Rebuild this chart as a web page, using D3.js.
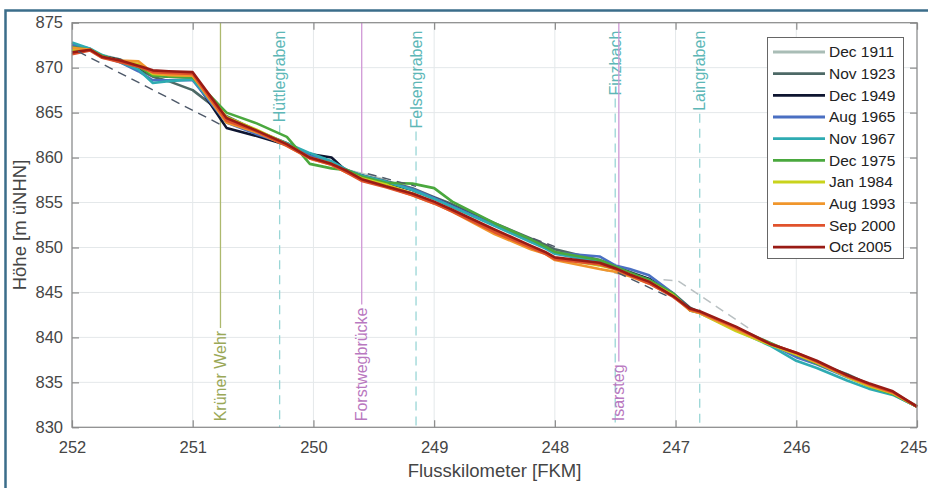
<!DOCTYPE html>
<html><head><meta charset="utf-8">
<script src="https://cdn.jsdelivr.net/npm/d3@7"></script>
<style>body{margin:0;background:#fff;} text{font-family:"Liberation Sans",Arial,sans-serif;}</style>
</head><body><svg id="c" width="928" height="488"></svg>
<script>
// ---- data ----
const km = [252.0,251.85,251.75,251.6,251.45,251.33,251.2,251.0,250.72,250.47,250.22,250.03,249.85,249.72,249.6,249.4,249.18,249.0,248.85,248.5,248.2,248.08,248.0,247.63,247.5,247.38,247.22,247.02,246.88,246.8,246.5,246.22,246.0,245.83,245.58,245.4,245.2,245.0];
const seriesNames = ["Dec 1911","Nov 1923","Dec 1949","Aug 1965","Nov 1967","Dec 1975","Jan 1984","Aug 1993","Sep 2000","Oct 2005"];
const seriesColors = ["#a9bdb6","#4d6966","#0e1530","#4a6fc2","#2eabb2","#4aa83e","#c9d31c","#f0962c","#e0522c","#991b15"];
const dec1911 = [872.3,872.0,871.4,870.9,870.1,869.4,869.2,869.0,864.4,863.0,861.6,860.2,859.4,858.6,858.2,857.5,null,null,null,852.6,850.8,850.2,849.6,848.0,null,null,null,null,null,null,841.1,839.4,838.1,837.2,835.9,834.8,833.8,832.4];
const nov1923 = [872.5,872.0,871.3,870.9,869.8,869.0,868.5,867.5,864.6,863.0,861.6,860.3,859.5,858.6,858.0,857.4,856.6,855.6,854.8,852.7,851.0,850.3,849.8,848.6,847.9,847.3,846.5,844.9,843.3,842.8,841.0,839.3,838.0,837.1,835.9,834.8,833.7,832.3];
const dec1949 = [872.0,872.0,871.3,870.8,870.0,869.2,869.0,868.9,863.3,862.4,861.4,860.4,860.0,858.4,858.0,857.2,856.4,855.5,854.6,852.5,850.8,850.0,849.4,848.5,847.9,847.2,846.5,844.8,843.2,842.8,841.0,839.3,838.1,837.2,835.8,834.7,833.8,832.3];
const aug1965 = [872.6,872.1,871.2,870.6,869.6,868.6,868.6,868.6,863.9,862.6,861.5,860.2,859.5,858.5,858.0,857.3,856.5,855.5,854.6,852.5,850.8,850.0,849.4,849.0,848.0,847.6,846.9,844.9,843.1,842.8,841.0,839.3,837.8,837.0,835.6,834.6,833.7,832.3];
const nov1967 = [872.8,872.1,871.4,870.6,869.8,868.3,868.5,868.7,864.2,862.8,861.6,860.5,859.6,858.6,858.0,857.3,856.4,855.4,854.5,852.4,850.6,849.9,849.3,848.4,847.8,847.1,846.4,844.8,843.0,842.7,840.8,839.1,837.4,836.6,835.2,834.3,833.6,832.3];
const dec1975 = [872.3,872.0,871.3,870.7,870.1,869.1,869.0,868.9,865.0,863.8,862.3,859.3,858.8,858.6,857.9,857.2,857.1,856.6,855.1,852.7,850.9,850.1,849.5,848.6,847.9,847.2,846.4,844.9,843.0,842.8,841.0,839.4,838.1,837.1,835.7,834.6,833.7,832.3];
const jan1984 = [872.0,872.0,871.2,870.7,870.4,869.3,869.2,869.1,864.5,863.1,861.5,860.0,859.3,858.4,857.7,857.0,856.0,855.0,854.1,851.8,850.1,849.4,848.8,848.0,847.6,847.0,846.2,844.7,843.1,842.7,840.7,839.2,838.1,837.2,835.6,834.6,833.8,832.3];
const aug1993 = [872.2,872.0,871.1,870.8,870.7,869.4,869.2,869.1,863.9,862.8,861.3,859.9,859.2,858.3,857.6,856.8,855.8,854.9,854.0,851.5,849.8,849.3,848.6,847.6,847.3,846.8,846.0,844.6,843.0,842.7,840.9,839.3,838.2,837.2,835.7,834.7,833.8,832.3];
const sep2000 = [871.5,871.9,871.1,870.6,870.1,869.5,869.4,869.3,864.1,862.9,861.3,859.9,859.2,858.3,857.4,856.7,855.8,854.9,854.0,851.7,850.0,849.3,848.7,848.1,847.6,846.9,846.0,844.5,843.1,842.8,841.1,839.3,838.3,837.3,835.7,834.8,833.9,832.3];
const oct2005 = [871.7,872.0,871.2,870.8,870.2,869.7,869.6,869.5,864.4,863.0,861.5,860.0,859.3,858.5,857.6,856.8,856.0,855.1,854.2,852.0,850.2,849.5,848.9,848.3,847.7,847.0,846.2,844.6,843.2,842.9,841.2,839.3,838.3,837.4,835.8,834.9,834.0,832.3];
const seriesValues = [dec1911,nov1923,dec1949,aug1965,nov1967,dec1975,jan1984,aug1993,sep2000,oct2005];
// dashed gap segments (km, height)
const dashDarkKm = [[251.95,250.76],[249.55,249.15],[248.18,248.0],[247.48,247.07]];
const dashDarkH  = [[871.8,863.6],[858.2,856.8],[851.0,850.1],[847.2,844.6]];
const dashLightKm = [[249.4,248.85],[247.63,247.45],[247.1,246.98,246.38]];
const dashLightH  = [[857.4,854.6],[847.6,847.0],[846.4,846.3,840.9]];
// landmarks
const markerNames = ["Krüner Wehr","Hüttlegraben","Forstwegbrücke","Felsengraben","Finzbach","Isarsteg","Laingraben"];
const markerKm = [250.77,250.28,249.60,249.15,247.50,247.47,246.80];
const markerKind = ["weir","creek","bridge","creek","creek","bridge","creek"];
const xTicks = [252,251,250,249,248,247,246,245];
const yTicks = [830,835,840,845,850,855,860,865,870,875];

// ---- drawing ----
const svg = d3.select("#c");
const L=72,R=917,T=22.7,B=427.3;
const x = d3.scaleLinear().domain([252,245]).range([L,R]);
const y = d3.scaleLinear().domain([830,875]).range([B,T]);

svg.append("rect").attr("x",5.5).attr("y",10.5).attr("width",1000).attr("height",1000)
  .attr("fill","none").attr("stroke","#3b6d8a").attr("stroke-width",2.5);

// grid
const g = svg.append("g");
g.selectAll(".gx").data(xTicks).join("line").attr("x1",d=>x(d)).attr("x2",d=>x(d)).attr("y1",T).attr("y2",B)
  .attr("stroke","#e4e8ea").attr("stroke-width",1);
g.selectAll(".gy").data(yTicks).join("line").attr("y1",d=>y(d)).attr("y2",d=>y(d)).attr("x1",L).attr("x2",R)
  .attr("stroke","#e4e8ea").attr("stroke-width",1);

// markers
const kindStyle = {
  weir:{stroke:"#adb96e",text:"#9aa857",dash:null,pos:"bottom"},
  bridge:{stroke:"#cf98d6",text:"#b978c0",dash:null,pos:"bottom"},
  creek:{stroke:"#9ad6d6",text:"#5db7b7",dash:"9,6",pos:"top"}
};
const mk = svg.append("g");
markerNames.forEach((name,i)=>{
  const st = kindStyle[markerKind[i]];
  const xx = x(markerKm[i]);
  const t = mk.append("text").text(name).attr("font-size",16).attr("fill",st.text)
    .attr("transform",`translate(${xx+5.5},${st.pos==="bottom"?B-6:T+8}) rotate(-90)`)
    .attr("text-anchor",st.pos==="bottom"?"start":"end");
  const len = t.node().getComputedTextLength();
  let y1,y2;
  if(st.pos==="bottom"){ y1=T; y2=B-6-len-3; } else { y1=T+8+len+3; y2=B; }
  mk.append("line").attr("x1",xx).attr("x2",xx).attr("y1",y1).attr("y2",y2)
    .attr("stroke",st.stroke).attr("stroke-width",1.3).attr("stroke-dasharray",st.dash);
});

// dashed gap lines
const line2 = d3.line().x(d=>x(d[0])).y(d=>y(d[1]));
dashLightKm.forEach((k,i)=>svg.append("path").attr("d",line2(k.map((v,j)=>[v,dashLightH[i][j]])))
  .attr("fill","none").attr("stroke","#b9c0c2").attr("stroke-width",1.5).attr("stroke-dasharray","9,6"));

// series
const line = d3.line().defined(d=>d[1]!=null).x(d=>x(d[0])).y(d=>y(d[1]));
seriesValues.forEach((vals,i)=>{
  svg.append("path").attr("d",line(km.map((k,j)=>[k,vals[j]])))
    .attr("fill","none").attr("stroke",seriesColors[i]).attr("stroke-width",2.6)
    .attr("stroke-linejoin","round").attr("stroke-opacity",i===0?0.8:1);
});
dashDarkKm.forEach((k,i)=>svg.append("path").attr("d",line2(k.map((v,j)=>[v,dashDarkH[i][j]])))
  .attr("fill","none").attr("stroke","#4d5868").attr("stroke-width",1.4).attr("stroke-dasharray","9,6"));

// box + axes
svg.append("rect").attr("x",L).attr("y",T).attr("width",R-L).attr("height",B-T)
  .attr("fill","none").attr("stroke","#8a8a8a").attr("stroke-width",1.2);
const axB = svg.append("g").attr("transform",`translate(0,${B})`)
  .call(d3.axisBottom(x).tickValues(xTicks).tickFormat(d3.format("d")).tickSizeInner(-7).tickSizeOuter(0).tickPadding(14));
const axT = svg.append("g").attr("transform",`translate(0,${T})`)
  .call(d3.axisTop(x).tickValues(xTicks).tickFormat("").tickSizeInner(-7).tickSizeOuter(0));
const axL = svg.append("g").attr("transform",`translate(${L},0)`)
  .call(d3.axisLeft(y).tickValues(yTicks).tickFormat(d3.format("d")).tickSizeInner(-7).tickSizeOuter(0).tickPadding(9));
const axR = svg.append("g").attr("transform",`translate(${R},0)`)
  .call(d3.axisRight(y).tickValues(yTicks).tickFormat("").tickSizeInner(-7).tickSizeOuter(0));
[axB,axT,axL,axR].forEach(a=>{
  a.select(".domain").remove();
  a.selectAll(".tick line").attr("stroke","#8a8a8a").attr("stroke-width",1.2);
  a.selectAll(".tick text").attr("fill","#454545").attr("font-size",16.5)
   .attr("font-family",'"Liberation Sans",Arial,sans-serif');
});
// keep the last x label inside the picture
axB.selectAll(".tick text").filter(d=>d===245).attr("text-anchor","end").attr("dx",10);

svg.append("text").text("Flusskilometer [FKM]").attr("x",(L+R)/2).attr("y",477)
  .attr("text-anchor","middle").attr("font-size",18.5).attr("fill","#454545");
svg.append("text").text("Höhe [m üNHN]").attr("transform",`translate(26,${(T+B)/2}) rotate(-90)`)
  .attr("text-anchor","middle").attr("font-size",18.5).attr("fill","#454545");

// legend
const lg = svg.append("g");
lg.append("rect").attr("x",767.5).attr("y",37.5).attr("width",136).attr("height",221)
  .attr("fill","#fff").attr("stroke","#666").attr("stroke-width",1);
seriesNames.forEach((n,i)=>{
  const yy = 52 + i*21.67;
  lg.append("line").attr("x1",773).attr("x2",825).attr("y1",yy).attr("y2",yy)
    .attr("stroke",seriesColors[i]).attr("stroke-width",2.8);
  lg.append("text").text(n).attr("x",829).attr("y",yy).attr("dy","0.35em")
    .attr("font-size",15.5).attr("fill","#222");
});
</script></body></html>
